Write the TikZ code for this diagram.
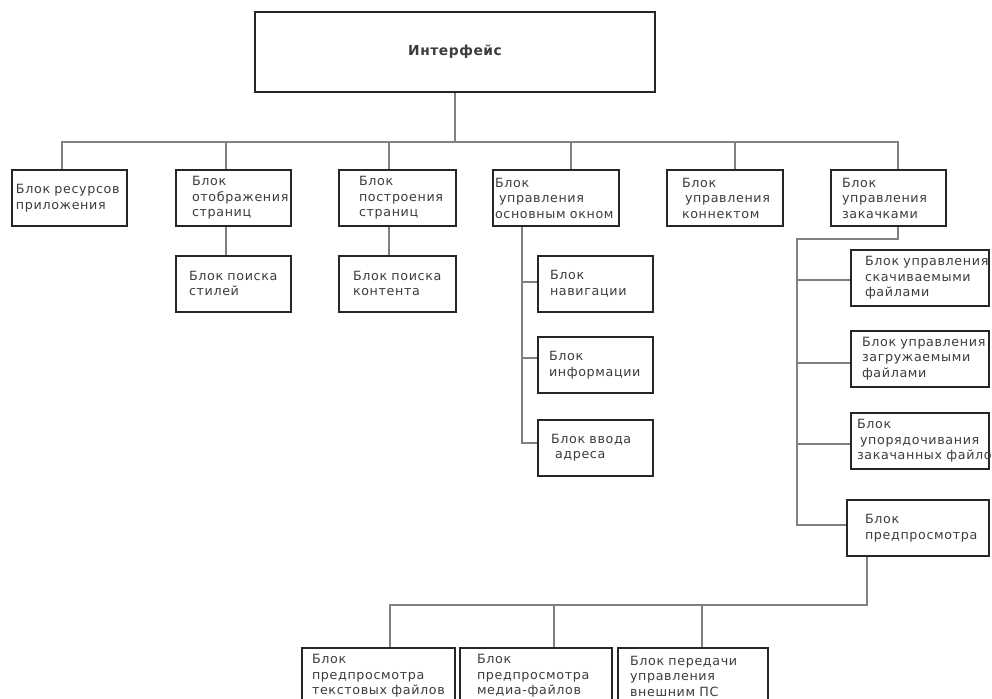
\documentclass[tikz,border=0pt]{standalone}
\usepackage{fontspec}
\setmainfont{DejaVu Sans}
\newfontfamily\blkfont[LetterSpace=5]{DejaVu Sans}
\newfontfamily\topfont[LetterSpace=4]{DejaVu Sans}
\definecolor{boxc}{HTML}{262626}
\definecolor{linec}{HTML}{808080}
\definecolor{txtc}{HTML}{3C3C3C}
\begin{document}
\begin{tikzpicture}[x=1pt,y=-1pt,
  blk/.style={draw=boxc, line width=2pt, minimum height=56pt, inner ysep=0pt,
    align=left, text=txtc, font=\blkfont\fontsize{12.7}{15.5}\selectfont},
  topbox/.style={draw=boxc, line width=2pt, minimum width=400pt, minimum height=80pt,
    inner sep=0pt, text=txtc, font=\topfont\bfseries\fontsize{13.8}{16}\selectfont},
  conn/.style={draw=linec, line width=1.5pt}]
\useasboundingbox (0,0) rectangle (992,698);
\fill[white] (0,0) rectangle (992,698);

% top
\node[topbox] (top) at (455,52) {Интерфейс};

% row 1
\node[blk, text width=107pt, inner xsep=4pt]  (b1) at (69.5,198) {Блок~ресурсов\\приложения};
\node[blk, text width=83pt,  inner xsep=16pt] (b2) at (233.5,198) {Блок\\отображения\\страниц};
\node[blk, text width=77pt,  inner xsep=20pt] (b3) at (397.5,198) {Блок\\построения\\страниц};
\node[blk, text width=122pt, inner xsep=2pt]  (b4) at (556,198) {Блок\\\hspace*{4pt}управления\\основным~окном};
\node[blk, text width=86pt,  inner xsep=15pt] (b5) at (725,198) {Блок\\\hspace*{3pt}управления\\коннектом};
\node[blk, text width=93pt,  inner xsep=11pt] (b6) at (888.5,198) {Блок\\управления\\закачками};

% row 2
\node[blk, text width=89pt, inner xsep=13pt] (b2a) at (233.5,283.5) {Блок~поиска\\стилей};
\node[blk, text width=89pt, inner xsep=14pt] (b3a) at (397.5,283.5) {Блок~поиска\\контента};

% column under b4
\node[blk, text width=91pt, inner xsep=12pt] (nav)  at (595.5,283.5) {Блок\\навигации};
\node[blk, text width=93pt, inner xsep=11pt] (info) at (595.5,365) {Блок\\информации};
\node[blk, text width=89pt, inner xsep=13pt] (addr) at (595.5,447.5) {Блок~ввода\\\hspace*{4pt}адреса};

% column under b6
\node[blk, text width=110pt, inner xsep=14pt] (dl)   at (920,278) {Блок~управления\\скачиваемыми\\файлами};
\node[blk, text width=116pt, inner xsep=11pt] (ul)   at (920,358.5) {Блок~управления\\загружаемыми\\файлами};
\node[blk, text width=126pt, inner xsep=6pt]  (ord)  at (920,441) {Блок\\\hspace*{3pt}упорядочивания\\закачанных~файлов};
\node[blk, text width=106pt, inner xsep=18pt] (prev) at (918,528) {Блок\\предпросмотра};

% bottom row
\node[blk, text width=133pt, inner xsep=10pt] (bt1) at (378.5,676) {Блок\\предпросмотра\\текстовых~файлов};
\node[blk, text width=118pt, inner xsep=17pt] (bt2) at (536,676) {Блок\\предпросмотра\\медиа-файлов};
\node[blk, text width=126pt, inner xsep=12pt] (bt3) at (693,676) {Блок~передачи\\управления\\внешним~ПС};

% main bus
\coordinate (busL) at (62,142);
\coordinate (busR) at (898,142);
\draw[conn] (top.south) -- (top.south |- busL);
\draw[conn] (b1.north -| busL) -- (busL) -- (busR) -- (b6.north -| busR);
\draw[conn] ([xshift=-7.5pt]b2.north) -- ([xshift=-7.5pt]b2.north |- busL);
\draw[conn] ([xshift=-8.5pt]b3.north) -- ([xshift=-8.5pt]b3.north |- busL);
\draw[conn] ([xshift=15pt]b4.north) -- ([xshift=15pt]b4.north |- busL);
\draw[conn] ([xshift=10pt]b5.north) -- ([xshift=10pt]b5.north |- busL);

% row 2 links
\draw[conn] ([xshift=-7.5pt]b2.south) -- ([xshift=-7.5pt]b2a.north);
\draw[conn] ([xshift=-8.5pt]b3.south) -- ([xshift=-8.5pt]b3a.north);

% column under b4
\coordinate (c4) at (522,443);
\draw[conn] ([xshift=-34pt]b4.south) -- (c4) -- ([yshift=4.5pt]addr.west);
\draw[conn] ([yshift=1.5pt]nav.west) -- ([yshift=1.5pt]nav.west -| c4);
\draw[conn] ([yshift=7pt]info.west) -- ([yshift=7pt]info.west -| c4);

% column under b6
\coordinate (c6t) at (797,239);
\coordinate (c6b) at (797,525);
\draw[conn] ([xshift=9.5pt]b6.south) -- ([xshift=9.5pt]b6.south |- c6t) -- (c6t) -- (c6b) -- ([yshift=3pt]prev.west);
\draw[conn] ([yshift=-2pt]dl.west) -- ([yshift=-2pt]dl.west -| c6t);
\draw[conn] ([yshift=-4.5pt]ul.west) -- ([yshift=-4.5pt]ul.west -| c6t);
\draw[conn] ([yshift=-3pt]ord.west) -- ([yshift=-3pt]ord.west -| c6t);

% bottom bus
\coordinate (bbR) at (867,605);
\coordinate (bbL) at (390,605);
\draw[conn] ([xshift=-51pt]prev.south) -- (bbR) -- (bbL) -- ([xshift=11.5pt]bt1.north);
\draw[conn] ([xshift=18pt]bt2.north) -- ([xshift=18pt]bt2.north |- bbL);
\draw[conn] ([xshift=9pt]bt3.north) -- ([xshift=9pt]bt3.north |- bbL);
\end{tikzpicture}
\end{document}
